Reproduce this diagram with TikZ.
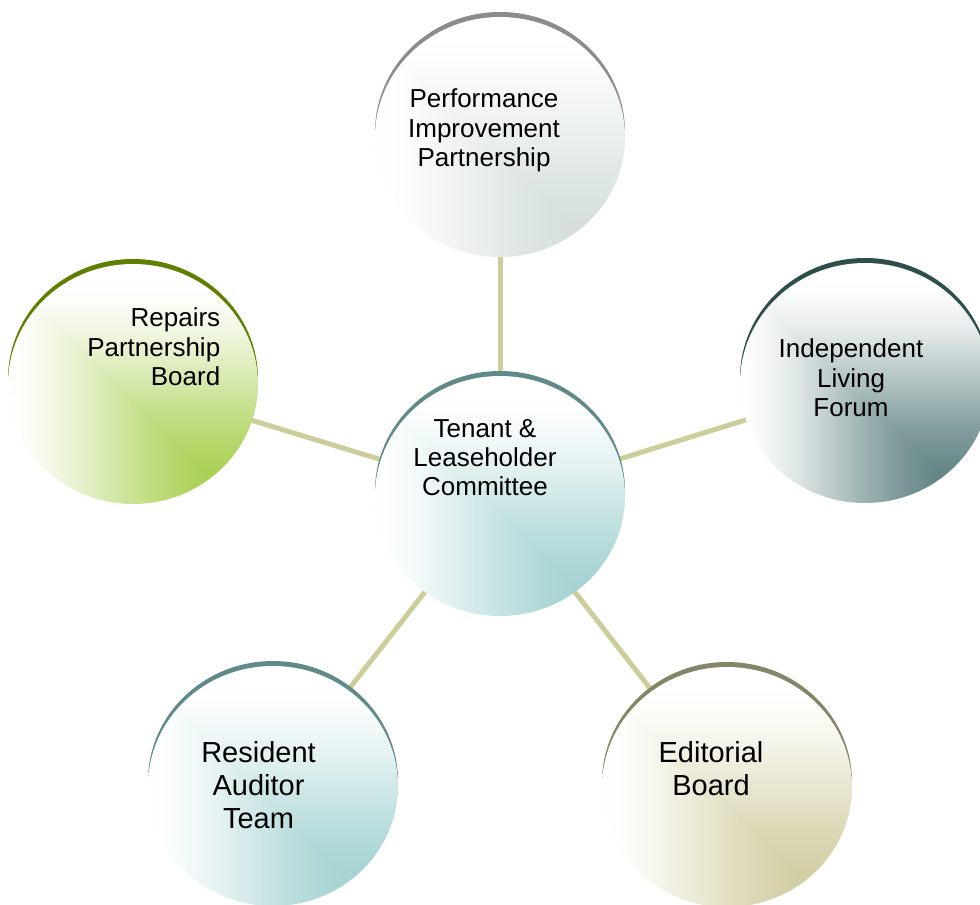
\documentclass[tikz,border=0pt]{standalone}
\usepackage{fontspec}
\setmainfont{Liberation Sans}
\usetikzlibrary{shapes.geometric,backgrounds}

% rim colours along the top of each disc
\definecolor{rimPip}{RGB}{140,140,140}
\definecolor{rimRep}{RGB}{95,127,0}
\definecolor{rimIlf}{RGB}{46,78,76}
\definecolor{rimTeal}{RGB}{96,138,138}
\definecolor{rimEd}{RGB}{133,133,104}
\definecolor{linkcol}{RGB}{205,205,155}

% "from corner" fill: square rings around a spot at the lower right,
% deepest tint at the spot, fading to white.
% #2-#4: spot rgb, #5-#7: one minus the spot rgb
\newcommand\mkdiscshade[7]{%
  \pgfdeclarefunctionalshading{#1}{\pgfpoint{-50bp}{-50bp}}{\pgfpoint{50bp}{50bp}}{}{%
    -33 sub abs exch 29 sub abs
    2 copy lt {exch} if pop
    4 sub 52 div
    dup 0 lt {pop 0} if
    dup 1 gt {pop 1} if
    dup mul
    1 exch sub dup mul 1 exch sub
    dup dup
    #7 mul #4 add
    3 1 roll
    #6 mul #3 add
    exch
    #5 mul #2 add
    exch
    3 -1 roll
  }}
\mkdiscshade{shPip}{0.824}{0.859}{0.859}{0.176}{0.141}{0.141}
\mkdiscshade{shRep}{0.643}{0.804}{0.282}{0.357}{0.196}{0.718}
\mkdiscshade{shIlf}{0.345}{0.486}{0.486}{0.655}{0.514}{0.514}
\mkdiscshade{shTeal}{0.620}{0.812}{0.812}{0.380}{0.188}{0.188}
\mkdiscshade{shEd}{0.808}{0.792}{0.612}{0.192}{0.208}{0.388}

\tikzset{
  disc/.style={ellipse, minimum width=187.5pt, minimum height=180pt, inner sep=0pt},
  rim/.style={disc, fill=#1},
  body/.style={disc, shade, shading=#1},
  link/.style={line width=3.75pt, draw=linkcol},
  lbl/.style={align=center, inner sep=0pt, font=\fontsize{19.5}{22}\selectfont},
  lblbig/.style={lbl, font=\fontsize{21.75}{25}\selectfont},
}

\begin{document}
\begin{tikzpicture}[x=0.75pt,y=-0.75pt]
\useasboundingbox (0,0) rectangle (980,904);

% rims (same disc, lifted a little)
\node[rim=rimPip]  (pipRim) at (500,132) {};
\node[rim=rimRep]  (repRim) at (133,379) {};
\node[rim=rimIlf]  (ilfRim) at (865,378) {};
\node[rim=rimTeal] (hubRim) at (500,491) {};
\node[rim=rimTeal] (ratRim) at (273,781) {};
\node[rim=rimEd]   (edRim)  at (727,782) {};

% discs
\node[body=shPip]  (pip) at (500,137) {};
\node[body=shRep]  (rep) at (133,384) {};
\node[body=shIlf]  (ilf) at (865,383) {};
\node[body=shTeal] (hub) at (500,496) {};
\node[body=shTeal] (rat) at (273,786) {};
\node[body=shEd]   (ed)  at (727,787) {};

% spokes
\begin{scope}[on background layer]
  \draw[link] (hub.center) -- (pip.center);
  \draw[link] (hub.center) -- (rep.center);
  \draw[link] (hub.center) -- (ilf.center);
  \draw[link] (hub.center) -- (rat.center);
  \draw[link] (hub.center) -- (ed.center);
\end{scope}

% labels
\node[lbl] (tPip) at (484,130.5) {Performance\\Improvement\\Partnership};
\node[lbl, align=right, anchor=east] (tRep) at (220.5,347) {Repairs\\Partnership\\Board};
\node[lbl] (tIlf) at (851,377.7) {Independent\\Living\\Forum};
\node[lbl] (tHub) at (485,457.5) {Tenant \&\\Leaseholder\\Committee};
\node[lblbig] (tRat) at (258.5,785) {Resident\\Auditor\\Team};
\node[lblbig] (tEd) at (711,768.3) {Editorial\\Board};
\end{tikzpicture}
\end{document}
